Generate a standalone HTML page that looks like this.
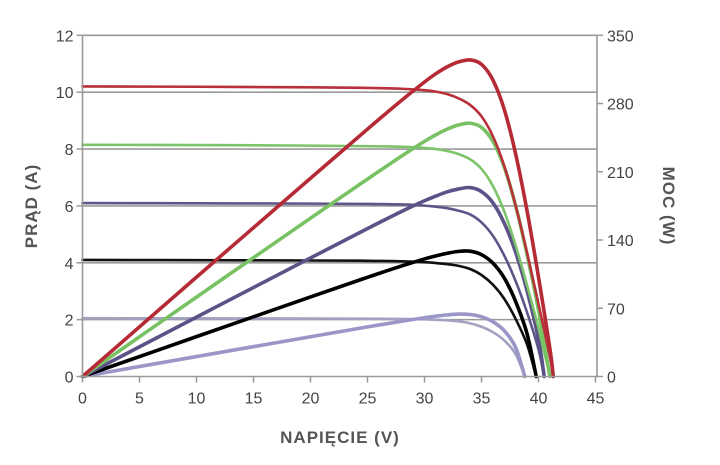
<!DOCTYPE html>
<html><head><meta charset="utf-8"><style>
html,body{margin:0;padding:0;background:#fff;}
svg{display:block;font-family:"Liberation Sans",sans-serif;}
</style></head><body>
<svg id="chart" width="720" height="465" viewBox="0 0 720 465" xmlns="http://www.w3.org/2000/svg">
<g id="grid"></g>
<g id="series"></g>
<g id="axes"></g>
<text transform="translate(37,206) rotate(-90)" text-anchor="middle" font-size="17" font-weight="bold" fill="#555" letter-spacing="1">PRĄD (A)</text>
<text transform="translate(663,206) rotate(90)" text-anchor="middle" font-size="17" font-weight="bold" fill="#555" letter-spacing="1">MOC (W)</text>
<text x="340" y="443" text-anchor="middle" font-size="17" font-weight="bold" fill="#555" letter-spacing="1">NAPIĘCIE (V)</text>
</svg>
<script>
const xTicks=[0,5,10,15,20,25,30,35,40,45];
const yTicks=[0,2,4,6,8,10,12];
const y2Ticks=[0,70,140,210,280,350];
const seriesNames=['red','green','purple','black','light'];
const vRed=[0,10,20,25,28,30,31,32,33,34,35,36,37,38,39,40,41,41.3];
const iRed=[10.2,10.19,10.17,10.15,10.12,10.07,10.02,9.93,9.78,9.55,9.15,8.45,7.4,6.0,4.35,2.55,0.7,0];
const vGreen=[0,10,20,25,28,30,31,32,33,34,35,36,37,38,39,40,41];
const iGreen=[8.15,8.14,8.12,8.1,8.08,8.04,8.0,7.93,7.82,7.64,7.3,6.7,5.8,4.6,3.2,1.7,0];
const vPurple=[0,10,20,25,28,30,31,32,33,34,35,36,37,38,39,40,40.5];
const iPurple=[6.1,6.09,6.08,6.07,6.05,6.01,5.97,5.92,5.83,5.7,5.42,4.95,4.25,3.35,2.25,0.95,0];
const vBlack=[0,10,20,25,28,30,31,32,33,34,35,36,37,38,39,39.8];
const iBlack=[4.1,4.09,4.08,4.07,4.05,4.02,3.99,3.95,3.89,3.78,3.57,3.23,2.73,2.02,1.12,0];
const vLight=[0,10,20,25,28,30,31,32,33,34,35,36,37,38,38.8];
const iLight=[2.05,2.045,2.04,2.035,2.025,2.01,1.995,1.975,1.94,1.87,1.75,1.56,1.27,0.78,0];

const NS='http://www.w3.org/2000/svg';
const X0=82.5,X1=595.5,Y0=376.5,Y1=35.3;
const xs=v=>X0+(v/45)*(X1-X0);
const ys=i=>Y0-(i/12)*(Y0-Y1);
const ys2=p=>Y0-(p/350)*(Y0-Y1);
function mk(tag,attrs,parent){const e=document.createElementNS(NS,tag);for(const k in attrs)e.setAttribute(k,attrs[k]);parent.appendChild(e);return e;}
const grid=document.getElementById('grid'),axes=document.getElementById('axes'),ser=document.getElementById('series');
yTicks.forEach(t=>{
  if(t>0){const l=mk('line',{x1:X0,x2:597,y1:ys(t),y2:ys(t),stroke:'#9a9a9a','stroke-width':1.6},grid);
  
  }
  const tk=mk('line',{x1:X0-6,x2:X0,y1:ys(t),y2:ys(t),stroke:'#9a9a9a','stroke-width':1.5},axes);
  
  
  const tx=mk('text',{x:X0-9,y:ys(t)+6,'text-anchor':'end','font-size':16,fill:'#444'},axes);
  tx.textContent=t;
  
  
});
y2Ticks.forEach(t=>{
  const tk=mk('line',{x1:597,x2:603,y1:ys2(t),y2:ys2(t),stroke:'#9a9a9a','stroke-width':1.5},axes);
  
  
  const tx=mk('text',{x:607,y:ys2(t)+6,'font-size':16,fill:'#444'},axes);
  tx.textContent=t;
  
  
});
xTicks.forEach(t=>{
  const tk=mk('line',{x1:xs(t),x2:xs(t),y1:Y0,y2:Y0+6,stroke:'#9a9a9a','stroke-width':1.5},axes);
  
  
  const tx=mk('text',{x:xs(t),y:Y0+27,'text-anchor':'middle','font-size':16,fill:'#444'},axes);
  tx.textContent=t;
  
  
});
const ax=mk('path',{d:`M${X0},${Y1} V${Y0} H597 V${Y1}`,fill:'none',stroke:'#9a9a9a','stroke-width':1.6},axes);



function smooth(pts){
  let d=`M${pts[0][0].toFixed(2)},${pts[0][1].toFixed(2)}`;
  for(let i=0;i<pts.length-1;i++){
    const p0=pts[i-1]||pts[i],p1=pts[i],p2=pts[i+1],p3=pts[i+2]||p2;
    const c1=[p1[0]+(p2[0]-p0[0])/6,p1[1]+(p2[1]-p0[1])/6];
    const c2=[p2[0]-(p3[0]-p1[0])/6,p2[1]-(p3[1]-p1[1])/6];
    d+=` C${c1[0].toFixed(2)},${c1[1].toFixed(2)} ${c2[0].toFixed(2)},${c2[1].toFixed(2)} ${p2[0].toFixed(2)},${p2[1].toFixed(2)}`;
  }
  return d;
}
const V=[vRed,vGreen,vPurple,vBlack,vLight],I=[iRed,iGreen,iPurple,iBlack,iLight];
const ivColors=['#b8303a','#7cc46a','#5e5589','#111111','#a3a2c2'];
const pColors=['#b52a35','#78c263','#5b5287','#000000','#9a96c8'];
[4,3,2,1,0].forEach(k=>{
  const iv=V[k].map((v,j)=>[xs(v),ys(I[k][j])]);
  const pw=V[k].map((v,j)=>[xs(v),ys2(v*I[k][j])]);
  const a=mk('path',{d:smooth(iv),fill:'none',stroke:ivColors[k],'stroke-width':2.6,'stroke-linecap':'round'},ser);
  
  
  const b=mk('path',{d:smooth(pw),fill:'none',stroke:pColors[k],'stroke-width':3.6,'stroke-linecap':'round'},ser);
  
  
});
</script>
</body></html>
